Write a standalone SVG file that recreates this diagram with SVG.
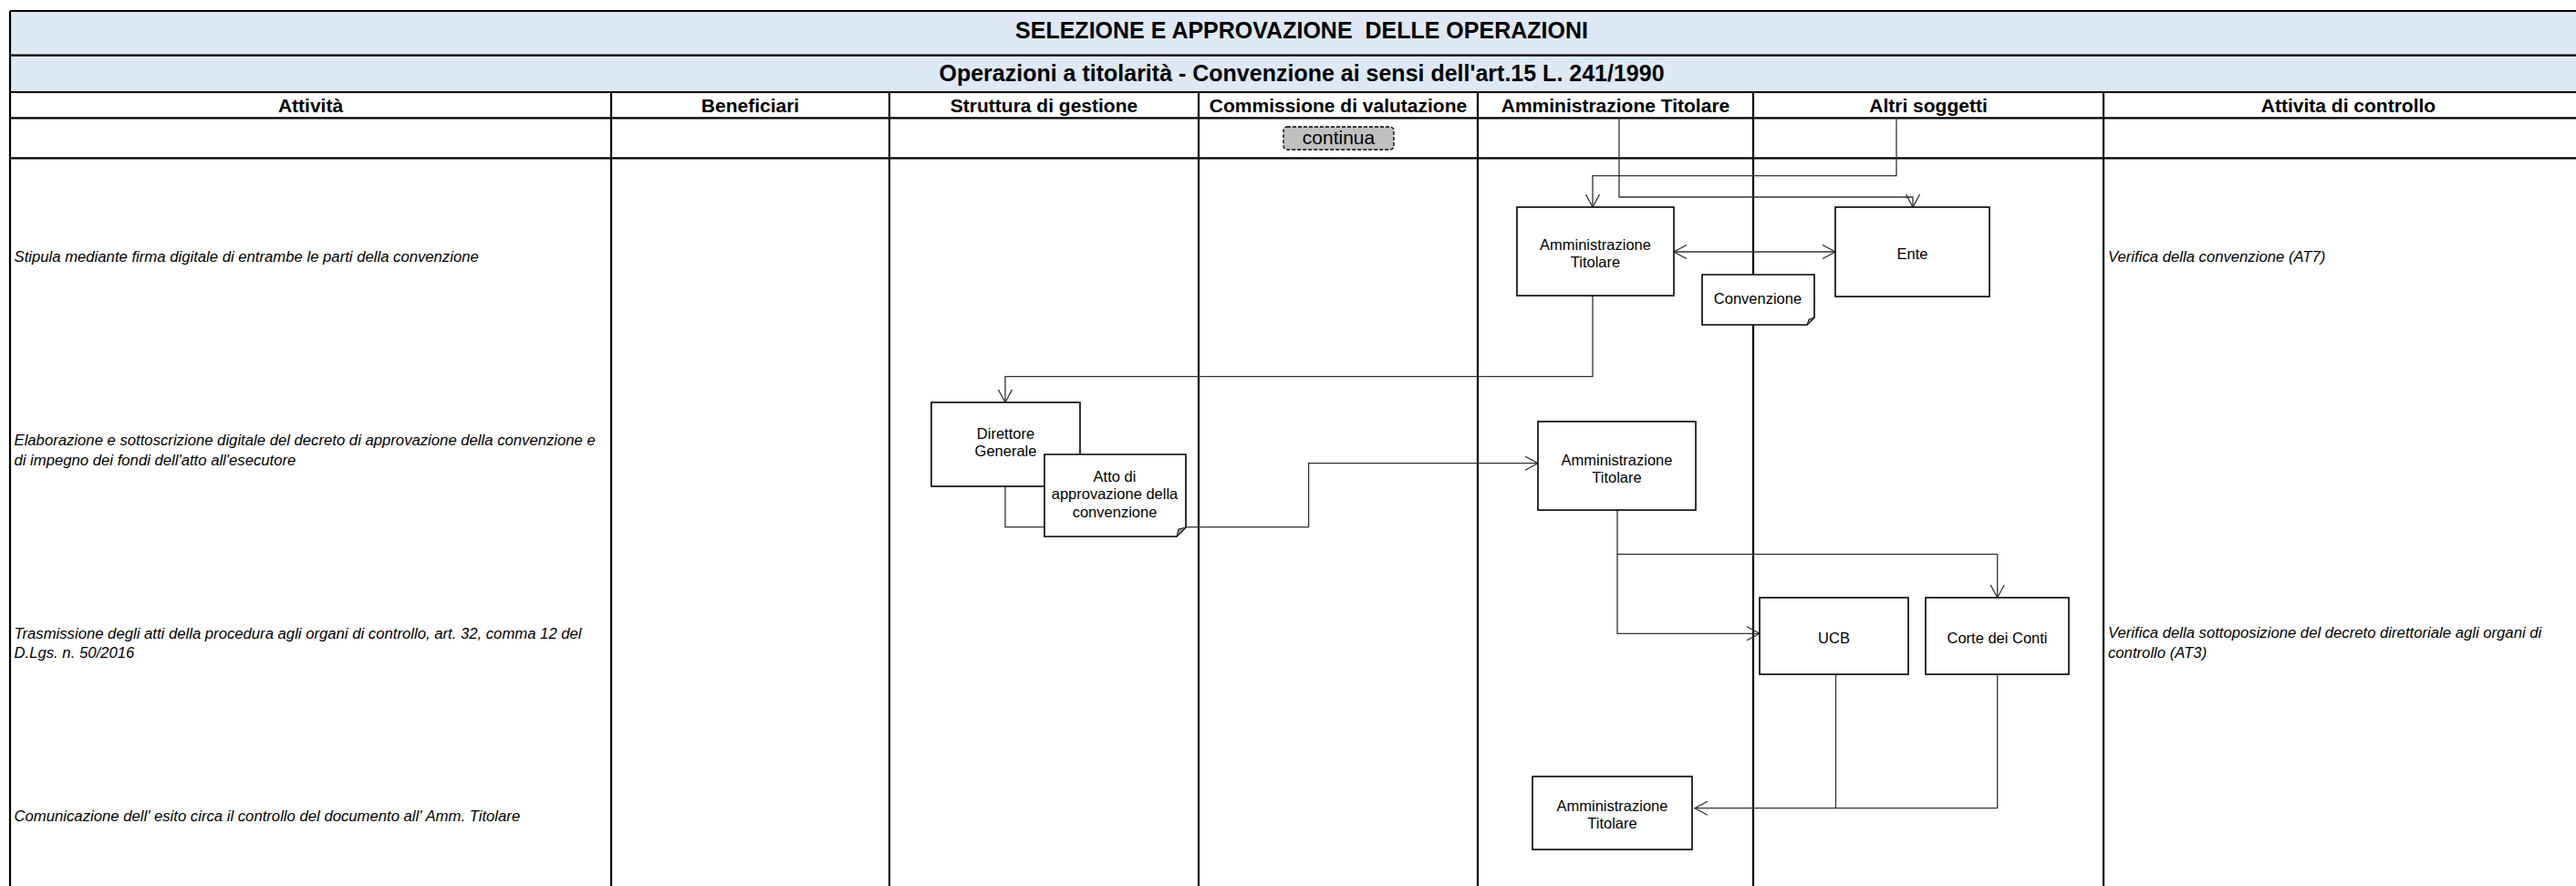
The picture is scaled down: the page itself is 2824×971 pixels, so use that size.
<svg xmlns="http://www.w3.org/2000/svg" width="2824" height="971" viewBox="0 0 2824 971">
<style>
.grid{stroke:#000;stroke-width:2.2;fill:none}
.band{fill:#dde9f4}
.hdr{font-family:"Liberation Sans",Arial,sans-serif;font-weight:bold;text-anchor:middle;fill:#000}
.body{font-family:"Liberation Sans",Arial,sans-serif;font-style:italic;font-size:16.7px;fill:#000}
.box{fill:#fff;stroke:#000;stroke-width:1.6}
.lbl{font-family:"Liberation Sans",Arial,sans-serif;font-size:16.5px;text-anchor:middle;fill:#000}
.big{font-family:"Liberation Sans",Arial,sans-serif;font-size:21px;text-anchor:middle;fill:#000}
.conn{fill:none;stroke:#333;stroke-width:1.3}
.fold{fill:#999;stroke:#000;stroke-width:1}
</style>
<defs>
<marker id="arr" markerUnits="userSpaceOnUse" viewBox="0 0 16 16" refX="15" refY="8" markerWidth="16" markerHeight="16" orient="auto-start-reverse">
<path d="M1,0.5 L15,8 L1,15.5" fill="none" stroke="#333" stroke-width="1.3"/>
</marker>
</defs>
<rect x="0" y="0" width="2824" height="971" fill="#fff"/>
<g id="table">
<rect class="band" x="11" y="12" width="2840" height="89"/>
<path class="grid" d="M11,12 H2850 M11,60.7 H2850 M11,101 H2850 M11,129.3 H2850 M11,173.3 H2850"/>
<path class="grid" d="M11,12 V971 M670,101 V971 M975,101 V971 M1314,101 V971 M1620,101 V971 M1922,101 V971 M2306,101 V971"/>
<text class="hdr" x="1427" y="42" font-size="25" xml:space="preserve">SELEZIONE E APPROVAZIONE  DELLE OPERAZIONI</text>
<text class="hdr" x="1427" y="89" font-size="25">Operazioni a titolarità - Convenzione ai sensi dell'art.15 L. 241/1990</text>
<text class="hdr" x="340.5" y="123" font-size="21">Attività</text>
<text class="hdr" x="822.5" y="123" font-size="21">Beneficiari</text>
<text class="hdr" x="1144.5" y="123" font-size="21">Struttura di gestione</text>
<text class="hdr" x="1467" y="123" font-size="21">Commissione di valutazione</text>
<text class="hdr" x="1771" y="123" font-size="21">Amministrazione Titolare</text>
<text class="hdr" x="2114" y="123" font-size="21">Altri soggetti</text>
<text class="hdr" x="2574.5" y="123" font-size="21">Attivita di controllo</text>
</g>
<g id="activities">
<text class="body" x="15.5" y="287">Stipula mediante firma digitale di entrambe le parti della convenzione</text>
<text class="body" x="15.5" y="488">Elaborazione e sottoscrizione digitale del decreto di approvazione della convenzione e</text>
<text class="body" x="15.5" y="510">di impegno dei fondi dell'atto all'esecutore</text>
<text class="body" x="15.5" y="700">Trasmissione degli atti della procedura agli organi di controllo, art. 32, comma 12 del</text>
<text class="body" x="15.5" y="721">D.Lgs. n. 50/2016</text>
<text class="body" x="15.5" y="900">Comunicazione dell' esito circa il controllo del documento all' Amm. Titolare</text>
</g>
<g id="controls">
<text class="body" x="2311" y="287">Verifica della convenzione (AT7)</text>
<text class="body" x="2311" y="699">Verifica della sottoposizione del decreto direttoriale agli organi di</text>
<text class="body" x="2311" y="721">controllo (AT3)</text>
</g>
<g id="connectors">
<path class="conn" d="M2079,129.3 V192.7 H1746 V227" marker-end="url(#arr)"/>
<path class="conn" d="M1775,129.3 V216 H2097 V227" marker-end="url(#arr)"/>
<path class="conn" d="M1835,276 H2012" stroke="#000" stroke-width="1.6" marker-start="url(#arr)" marker-end="url(#arr)"/>
<path class="conn" d="M1746,324 V412.7 H1102 V441" marker-end="url(#arr)"/>
<path class="conn" d="M1102,533 V577.7 H1145"/>
<path class="conn" d="M1300,577.7 H1434.6 V507.7 H1686" marker-end="url(#arr)"/>
<path class="conn" d="M1773,559 V607.3 H2189.7 V655" marker-end="url(#arr)"/>
<path class="conn" d="M1773,607.3 V694.3 H1929" marker-end="url(#arr)"/>
<path class="conn" d="M2012.5,739 V885.7"/>
<path class="conn" d="M2189.7,739 V885.7 H1858" marker-end="url(#arr)"/>
</g>
<g id="continua">
<rect x="1407" y="139" width="121" height="25" rx="4" fill="#c0c0c0" stroke="#000" stroke-width="1.3" stroke-dasharray="4,2"/>
<text class="big" x="1467.5" y="157.5">continua</text>
</g>
<g id="amm1">
<rect class="box" x="1663" y="227" width="172" height="97"/>
<text class="lbl" x="1749" y="274">Amministrazione</text>
<text class="lbl" x="1749" y="292.5">Titolare</text>
</g>
<g id="ente">
<rect class="box" x="2012" y="227" width="169" height="98"/>
<text class="lbl" x="2096.5" y="284">Ente</text>
</g>
<g id="convenzione">
<path class="box" d="M1866,301 H1989 V348 L1981,356 H1866 Z"/>
<path class="fold" d="M1989,348 L1981,356 L1983,350 Z"/>
<text class="lbl" x="1927" y="333">Convenzione</text>
</g>
<g id="direttore">
<rect class="box" x="1021" y="441" width="163" height="92"/>
<text class="lbl" x="1102.5" y="481">Direttore</text>
<text class="lbl" x="1102.5" y="500">Generale</text>
</g>
<g id="atto">
<path class="box" d="M1145,498 H1300 V578 L1290,588 H1145 Z"/>
<path class="fold" d="M1300,578 L1290,588 L1292,580 Z"/>
<text class="lbl" x="1222" y="527.5">Atto di</text>
<text class="lbl" x="1222" y="547">approvazione della</text>
<text class="lbl" x="1222" y="566.5">convenzione</text>
</g>
<g id="amm2">
<rect class="box" x="1686" y="462" width="173" height="97"/>
<text class="lbl" x="1772.5" y="510">Amministrazione</text>
<text class="lbl" x="1772.5" y="529">Titolare</text>
</g>
<g id="ucb">
<rect class="box" x="1929" y="655" width="163" height="84"/>
<text class="lbl" x="2010.5" y="705">UCB</text>
</g>
<g id="corte">
<rect class="box" x="2111" y="655" width="157" height="84"/>
<text class="lbl" x="2189.5" y="705">Corte dei Conti</text>
</g>
<g id="amm3">
<rect class="box" x="1680" y="851" width="175" height="80"/>
<text class="lbl" x="1767.5" y="889">Amministrazione</text>
<text class="lbl" x="1767.5" y="908">Titolare</text>
</g>
</svg>
